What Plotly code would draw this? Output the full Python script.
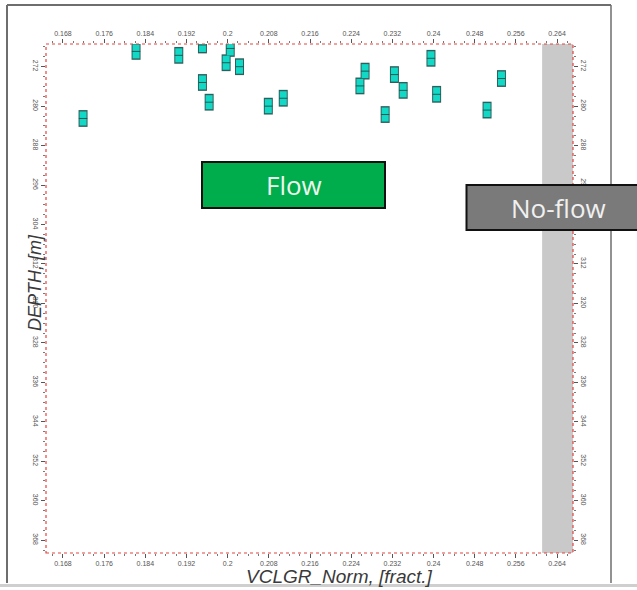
import plotly.graph_objects as go

# Normalised shale volume vs depth samples
vclgr_norm = [0.1719, 0.1822, 0.1905, 0.1951, 0.2005, 0.1997, 0.2023, 0.1951, 0.1964, 0.2079,
              0.2108, 0.2395, 0.2267, 0.2324, 0.2532, 0.2257, 0.2341, 0.2406, 0.2504, 0.2306]
depth_m = [282.5, 268.9, 269.7, 267.6, 268.3, 271.2, 272.0, 275.2, 279.2, 280.0,
           278.4, 270.3, 272.9, 273.6, 274.4, 275.9, 276.8, 277.6, 280.8, 281.7]

# Axis extents and ticks
x_range = [0.1647, 0.2671]
y_range = [370.6, 267.4]
x_tickvals = [0.168, 0.176, 0.184, 0.192, 0.2, 0.208, 0.216, 0.224, 0.232, 0.24, 0.248, 0.256, 0.264]
x_ticktext = ["0.168", "0.176", "0.184", "0.192", "0.2", "0.208", "0.216", "0.224", "0.232",
              "0.24", "0.248", "0.256", "0.264"]
y_tickvals = [272, 280, 288, 296, 304, 312, 320, 328, 336, 344, 352, 360, 368]
y_ticktext = [str(v) for v in y_tickvals]

# No-flow cutoff zone
noflow_cutoff = 0.2611

W, H = 637, 590
ML, MR, MT, MB = 46, 64, 44, 37
PW, PH = W - ML - MR, H - MT - MB


def px(x):
    return (x - ML) / PW


def py(y):
    return (H - MB - y) / PH


fig = go.Figure()

# Sample markers: dark outline, cyan body, centre bar
fig.add_trace(go.Scatter(
    x=vclgr_norm, y=depth_m, mode="markers", hoverinfo="skip", showlegend=False,
    marker=dict(symbol="line-ns", size=12, line=dict(width=9, color="#2f5f5c")),
))
fig.add_trace(go.Scatter(
    x=vclgr_norm, y=depth_m, mode="markers", hoverinfo="skip", showlegend=False,
    marker=dict(symbol="line-ns", size=10, line=dict(width=7, color="#12d9c6")),
))
fig.add_trace(go.Scatter(
    x=vclgr_norm, y=depth_m, mode="markers", hoverinfo="skip", showlegend=False,
    marker=dict(symbol="line-ew", size=6, line=dict(width=1, color="#1e5a55")),
))
# dummy trace to activate secondary axes
fig.add_trace(go.Scatter(x=[None], y=[None], xaxis="x2", yaxis="y2", showlegend=False))

tickfont = dict(family="Liberation Sans, Arial", size=7, color="#555555")
common_x = dict(range=x_range, tickvals=x_tickvals, ticktext=x_ticktext, showgrid=False,
                zeroline=False, ticks="outside", ticklen=4, tickcolor="#555555", tickwidth=1,
                tickfont=tickfont,
                minor=dict(ticks="outside", ticklen=2, dtick=0.002, tick0=0.168,
                           tickcolor="#777777", showgrid=False),
                showline=False)
common_y = dict(range=y_range, tickvals=y_tickvals, ticktext=y_ticktext, showgrid=False,
                zeroline=False, ticks="outside", ticklen=4, tickcolor="#555555", tickwidth=1,
                tickfont=tickfont, tickangle=90,
                minor=dict(ticks="outside", ticklen=2, dtick=2, tick0=272,
                           tickcolor="#777777", showgrid=False),
                showline=False)

fig.update_layout(
    width=W, height=H,
    margin=dict(l=ML, r=MR, t=MT, b=MB),
    paper_bgcolor="white", plot_bgcolor="white",
    xaxis=dict(**common_x, side="bottom"),
    xaxis2=dict(**common_x, side="top", overlaying="x", matches="x"),
    yaxis=dict(**common_y, side="left"),
    yaxis2=dict(**common_y, side="right", overlaying="y", matches="y"),
)

shapes = []
# grey no-flow zone
shapes.append(dict(type="rect", xref="x", yref="paper", x0=noflow_cutoff, x1=x_range[1],
                   y0=0, y1=1, fillcolor="#c9c9c9", line=dict(width=0), layer="below"))
# dotted plot border
shapes.append(dict(type="rect", xref="paper", yref="paper", x0=0, x1=1, y0=0, y1=1,
                   line=dict(color="#e8443f", width=1.2, dash="dot")))
# outer frame
frame_col = "#6e6e6e"
shapes.append(dict(type="line", xref="paper", yref="paper", x0=px(7), x1=px(7),
                   y0=py(5), y1=py(583), line=dict(color=frame_col, width=2)))
shapes.append(dict(type="line", xref="paper", yref="paper", x0=px(7), x1=px(611),
                   y0=py(5), y1=py(5), line=dict(color=frame_col, width=2)))
shapes.append(dict(type="line", xref="paper", yref="paper", x0=px(611), x1=px(611),
                   y0=py(5), y1=py(583), line=dict(color=frame_col, width=1.5)))
shapes.append(dict(type="line", xref="paper", yref="paper", x0=px(0), x1=px(W),
                   y0=py(585.5), y1=py(585.5), line=dict(color="#cfcfcf", width=3)))
# Flow / No-flow boxes
shapes.append(dict(type="rect", xref="paper", yref="paper", x0=px(202), x1=px(385),
                   y0=py(208), y1=py(162), fillcolor="#00ad4c",
                   line=dict(color="#111111", width=2)))
shapes.append(dict(type="rect", xref="paper", yref="paper", x0=px(466.5), x1=px(645),
                   y0=py(230), y1=py(185), fillcolor="#7a7a7a",
                   line=dict(color="#111111", width=2)))
fig.update_layout(shapes=shapes)

annotations = [
    dict(text="Flow", xref="paper", yref="paper", x=px(294), y=py(185), showarrow=False,
         font=dict(family="Open Sans", size=26, color="#eef7ee"), xanchor="center", yanchor="middle"),
    dict(text="No-flow", xref="paper", yref="paper", x=px(558), y=py(208), showarrow=False,
         font=dict(family="Open Sans", size=26, color="#f0f0f0"), xanchor="center", yanchor="middle"),
    dict(text="<i>VCLGR_Norm, [fract.]</i>", xref="paper", yref="paper", x=px(339), y=py(576),
         showarrow=False, font=dict(family="Liberation Sans, Arial", size=19, color="#3a3a3a"),
         xanchor="center", yanchor="middle"),
    dict(text="<i>DEPTH, [m]</i>", xref="paper", yref="paper", x=px(35), y=py(283),
         showarrow=False, textangle=-90,
         font=dict(family="Liberation Sans, Arial", size=18, color="#3a3a3a"),
         xanchor="center", yanchor="middle"),
]
fig.update_layout(annotations=annotations)

fig.write_html("out.html")
